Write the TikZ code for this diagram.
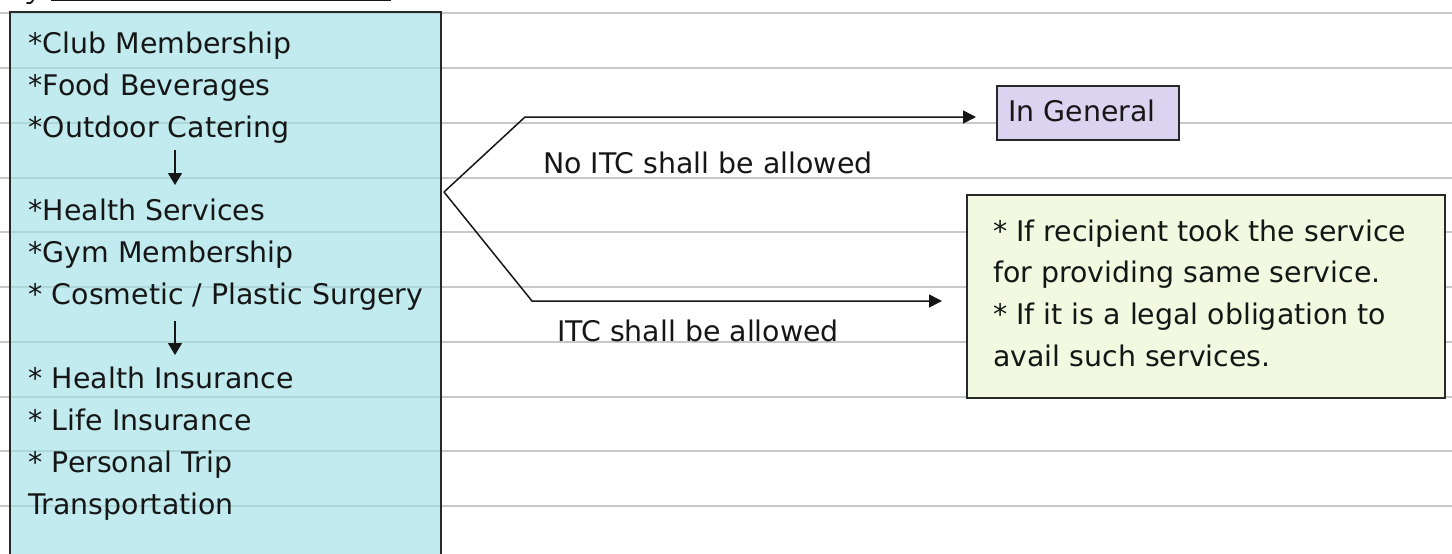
\documentclass[tikz,border=0pt]{standalone}
\usepackage{fontspec}
\setmainfont{DejaVu Sans}
\usetikzlibrary{arrows.meta}

\definecolor{ruleGrey}{RGB}{200,200,200}
\definecolor{listFill}{RGB}{158,224,228}
\definecolor{genFill}{RGB}{218,212,240}
\definecolor{condFill}{RGB}{243,249,225}
\definecolor{inkDark}{RGB}{22,22,22}
\definecolor{edgeDark}{RGB}{40,40,40}

\tikzset{
  ruleline/.style={draw=ruleGrey, line width=1.8pt},
  listbox/.style={draw=edgeDark, line width=2pt, fill=listFill, fill opacity=0.64,
                  anchor=north west, inner sep=0pt},
  plainbox/.style={draw=edgeDark, line width=1.8pt, anchor=north west, inner sep=0pt},
  txt/.style={anchor=base west, inner sep=0pt, text=inkDark,
              font=\fontsize{28.4}{30}\selectfont},
  flow/.style={draw=inkDark, line width=1.5pt,
               -{Triangle[length=13pt,width=13pt]}},
  downflow/.style={draw=inkDark, line width=1.4pt,
               -{Triangle[length=12pt,width=14pt]}},
}

\begin{document}
\begin{tikzpicture}[x=1pt,y=-1pt]
\useasboundingbox (0,0) rectangle (1452,554);

% heading remnant along the top edge
\draw[inkDark, line width=1.6pt] (51,0.6) -- (391,0.6);
\draw[inkDark, line width=1.8pt, line cap=round] (33,0) .. controls (32,3) and (29,4) .. (27,3);

% ruled paper lines
\foreach \yy in {13,68,123,178,232,287,342,397,451,506}
  \draw[ruleline] (0,\yy) -- (1452,\yy);

% list of blocked services
\node[listbox, minimum width=431.5pt, minimum height=560pt] (list) at (8.5,11) {};

\foreach \n/\k/\t in {l0/0/{*Club Membership},
                      l1/1/{*Food Beverages},
                      l2/2/{*Outdoor Catering},
                      l4/4/{*Health Services},
                      l5/5/{*Gym Membership},
                      l6/6/{* Cosmetic / Plastic Surgery},
                      l8/8/{* Health Insurance},
                      l9/9/{* Life Insurance},
                      l10/10/{* Personal Trip},
                      l11/11/{Transportation}}
  \node[txt] (\n) at (28.5, 53.3+41.9*\k) {\t};

% arrows between the groups
\coordinate (d1a) at (175,150);
\coordinate (d1b) at (175,185);
\coordinate (d2a) at (175,321);
\coordinate (d2b) at (175,355);
\draw[downflow] (d1a) -- (d1b);
\draw[downflow] (d2a) -- (d2b);

% outcome boxes
\node[plainbox, fill=genFill, minimum width=182pt, minimum height=54pt] (gen) at (996,85) {};
\node[txt] (gentxt) at (1008,121.7) {In General};

\node[plainbox, fill=condFill, minimum width=478pt, minimum height=203pt] (cond) at (966,194) {};
\node[txt] (c1) at (993,241)   {* If recipient took the service};
\node[txt] (c2) at (993,282.8) {for providing same service.};
\node[txt] (c3) at (993,324.7) {* If it is a legal obligation to};
\node[txt] (c4) at (993,366.6) {avail such services.};

% fork of the two branches
\coordinate (fork) at (444,192);
\coordinate (upbend) at (525,117);
\coordinate (uptip) at (976,117);
\coordinate (lowbend) at (532,301);
\coordinate (lowtip) at (942,301);
\draw[flow, line join=miter] (fork) -- (upbend) -- (uptip);
\draw[flow, line join=miter] (fork) -- (lowbend) -- (lowtip);

\node[txt] (nolbl) at (543,173) {No ITC shall be allowed};
\node[txt] (yeslbl) at (557,341) {ITC shall be allowed};
\end{tikzpicture}
\end{document}
